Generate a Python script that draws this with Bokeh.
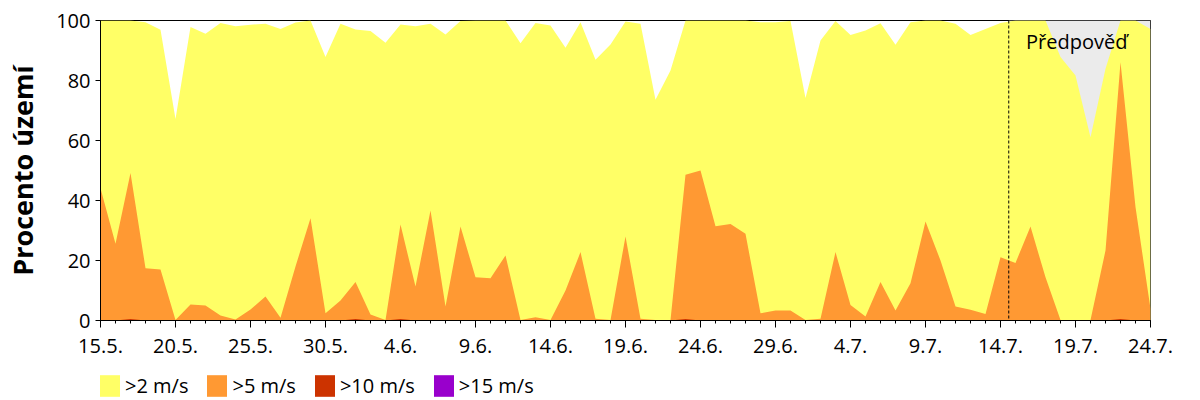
from bokeh.plotting import figure
from bokeh.layouts import column
from bokeh.models import (ColumnDataSource, FixedTicker, Span, BoxAnnotation, Label,
                          Legend, LegendItem, Range1d)
from bokeh.embed import file_html
from bokeh.resources import INLINE

# ---- data (day index 0 = 15.5.) ----
tick_labels = ["15.5.", "20.5.", "25.5.", "30.5.", "4.6.", "9.6.", "14.6.", "19.6.",
               "24.6.", "29.6.", "4.7.", "9.7.", "14.7.", "19.7.", "24.7."]
tick_positions = [0, 5, 10, 15, 20, 25, 30, 35, 40, 45, 50, 55, 60, 65, 70]
days = list(range(71))

gt2 = [100, 100, 100, 99.4, 96.9, 67.2, 97.8, 95.6, 99.2, 98.1,
       98.6, 98.9, 97.2, 99.3, 100, 87.8, 98.9, 97.0, 96.5, 92.6,
       98.7, 98.1, 98.9, 95.3, 99.8, 100, 100, 100, 92.4, 99.2,
       98.3, 90.9, 99.4, 86.9, 92.0, 99.7, 98.9, 73.6, 83.3, 100,
       100, 100, 100, 100, 99.4, 99.4, 99.8, 74.2, 93.3, 99.8,
       95.2, 96.7, 99.1, 91.9, 99.4, 100, 100, 98.9, 95.2, 97.2,
       99.2, 100, 100, 100, 87.8, 81.7, 61.1, 83.9, 100, 100,
       97.2]
gt5 = [44.1, 25.6, 49.2, 17.4, 17.0, 0.2, 5.3, 5.0, 1.7, 0.3,
       3.7, 8.0, 0.9, 18.0, 34.1, 2.4, 6.7, 12.8, 2.0, 0.2,
       32.0, 11.3, 36.7, 4.7, 31.3, 14.4, 14.1, 21.7, 0.2, 1.1,
       0.2, 10.0, 22.8, 0.6, 0.2, 28.0, 0.6, 0.2, 0.2, 48.6,
       50.0, 31.4, 32.2, 28.9, 2.4, 3.3, 3.3, 0.2, 0.6, 22.8,
       5.2, 1.3, 12.8, 3.3, 12.4, 33.0, 20.0, 4.7, 3.6, 2.2,
       21.1, 19.2, 31.3, 14.4, 0.2, 0.2, 0.2, 23.3, 86.1, 37.8,
       3.9]
gt10 = [0, 0, 0.5, 0, 0, 0, 0, 0, 0, 0,
        0, 0, 0, 0, 0, 0, 0, 0.5, 0, 0,
        0.5, 0, 0, 0, 0, 0, 0, 0, 0, 0,
        0, 0, 0, 0, 0, 0, 0, 0, 0, 0.5,
        0, 0, 0, 0, 0, 0, 0, 0, 0, 0,
        0, 0, 0, 0, 0, 0, 0, 0, 0, 0,
        0, 0, 0, 0, 0, 0, 0, 0, 0.5, 0,
        0]
gt15 = [0] * 71

series_names = [">2 m/s", ">5 m/s", ">10 m/s", ">15 m/s"]
series_colors = ["#ffff66", "#ff9933", "#cc3300", "#9900cc"]
series_cols = ["gt2", "gt5", "gt10", "gt15"]
forecast_start = 60.55
forecast_end = 70
forecast_text = "Předpověď"
y_title = "Procento území"

FONT = "Open Sans"
W = 1192

src = ColumnDataSource(dict(x=days, gt2=gt2, gt5=gt5, gt10=gt10, gt15=gt15, zero=[0] * 71))

p = figure(width=W, height=362, output_backend="svg", toolbar_location=None,
           x_range=Range1d(0, 70), y_range=Range1d(0, 100),
           min_border_left=100, min_border_right=42, min_border_top=20, min_border_bottom=42)
p.background_fill_color = "white"
p.border_fill_color = "white"
p.outline_line_color = "black"
p.outline_line_width = 1
p.xgrid.visible = False
p.ygrid.visible = False

# forecast shading
p.add_layout(BoxAnnotation(left=forecast_start, right=forecast_end, fill_color="#ebebeb",
                           fill_alpha=1.0, line_alpha=0, level="underlay"))

for col, c in zip(series_cols, series_colors):
    p.varea(x="x", y1="zero", y2=col, source=src, fill_color=c, fill_alpha=1.0)

p.add_layout(Span(location=forecast_start, dimension="height", line_color="black",
                  line_width=1, line_dash="3 2"))
p.add_layout(Label(x=61.7, y=93, text=forecast_text, text_font=FONT, text_font_size="20px",
                   text_baseline="middle", text_color="black"))

# axes
p.xaxis.ticker = FixedTicker(ticks=tick_positions, minor_ticks=days)
p.xaxis.major_label_overrides = {pos: lab for pos, lab in zip(tick_positions, tick_labels)}
p.xaxis.major_tick_out = 7
p.xaxis.major_tick_in = 0
p.xaxis.minor_tick_out = 3
p.xaxis.minor_tick_in = 0
p.xaxis.major_label_standoff = 11
p.xaxis.major_label_text_font = FONT
p.xaxis.major_label_text_font_size = "20px"
p.xaxis.major_label_text_color = "black"

p.yaxis.ticker = FixedTicker(ticks=[0, 20, 40, 60, 80, 100], minor_ticks=[])
p.yaxis.major_tick_out = 5
p.yaxis.major_tick_in = 0
p.yaxis.minor_tick_out = 0
p.yaxis.minor_tick_in = 0
p.yaxis.major_label_standoff = 5
p.yaxis.major_label_text_font = FONT
p.yaxis.major_label_text_font_size = "20px"
p.yaxis.major_label_text_color = "black"
p.yaxis.axis_label = y_title
p.yaxis.axis_label_text_font = FONT
p.yaxis.axis_label_text_font_style = "bold"
p.yaxis.axis_label_text_font_size = "27px"
p.yaxis.axis_label_text_color = "black"
p.yaxis.axis_label_standoff = 12

for ax in (p.xaxis, p.yaxis):
    ax.axis_line_color = "black"
    ax.major_tick_line_color = "black"
    ax.minor_tick_line_color = "black"

# legend strip below the chart (its data lies outside its view; only the legend shows)
lg = figure(width=W, height=38, output_backend="svg", toolbar_location=None,
            x_range=Range1d(1000, 1000 + W), y_range=Range1d(1000, 1038),
            x_axis_location=None, y_axis_location=None,
            min_border_left=0, min_border_right=0, min_border_top=0, min_border_bottom=0)
if "frame_align" in lg.properties():
    lg.frame_align = False
lg.grid.visible = False
lg.outline_line_color = None
lg.background_fill_color = "white"
lg.border_fill_color = "white"
dummy = []
for col, c in zip(series_cols, series_colors):
    dummy.append(lg.varea(x="x", y1="zero", y2=col, source=src, fill_color=c, fill_alpha=1.0))

legend = Legend(items=[LegendItem(label=n, renderers=[r]) for n, r in zip(series_names, dummy)],
                orientation="horizontal", location=(97, 1),
                glyph_width=25, glyph_height=27, label_standoff=3, spacing=16,
                padding=0, margin=0, border_line_alpha=0, background_fill_alpha=0,
                label_text_font=FONT, label_text_font_size="20px", label_text_color="black",
                label_height=27)
lg.add_layout(legend, "center")

layout = column(p, lg, spacing=0)
open("out.html", "w").write(file_html(layout, INLINE))
